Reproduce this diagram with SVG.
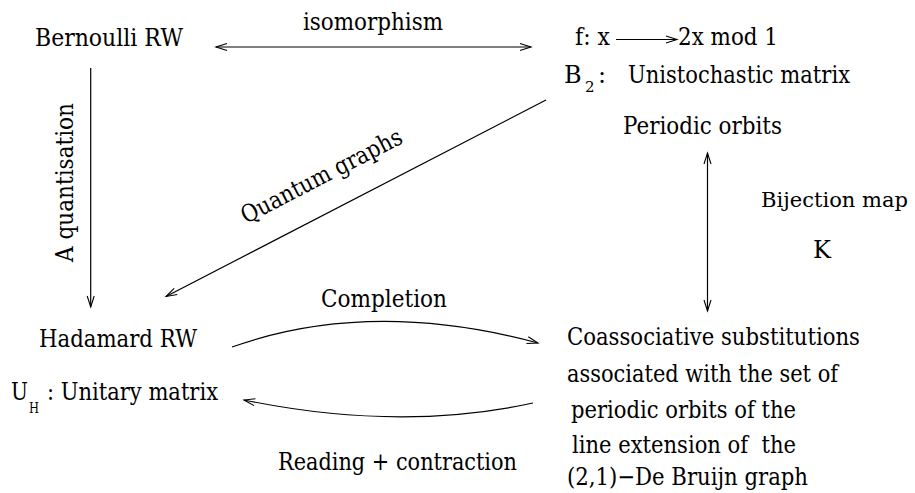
<svg xmlns="http://www.w3.org/2000/svg" width="915" height="493" viewBox="0 0 915 493">
<style>
.t{font-size:24px;fill:#000}
.sub{font-size:15px}
.c{fill:none;stroke:#000;stroke-width:1.2}
</style>
<defs>
<marker id="ah" markerUnits="userSpaceOnUse" markerWidth="14" markerHeight="10" viewBox="-12 -5 14 10" refX="0" refY="0" orient="auto-start-reverse">
<path d="M-11,-3.5 L0,0 L-11,3.5" fill="none" stroke="#000" stroke-width="1.1"/>
</marker>
</defs>
<rect width="915" height="493" fill="#fff"/>
<g id="connectors">
<line class="c" x1="216" y1="47" x2="531" y2="47" marker-start="url(#ah)" marker-end="url(#ah)"/>
<line class="c" x1="616" y1="39.5" x2="677" y2="39.5" marker-end="url(#ah)"/>
<line class="c" x1="90.7" y1="68" x2="90.7" y2="307" marker-end="url(#ah)"/>
<line class="c" x1="546" y1="100" x2="166" y2="296.5" marker-end="url(#ah)"/>
<line class="c" x1="707.5" y1="153" x2="707.5" y2="311" marker-start="url(#ah)" marker-end="url(#ah)"/>
<path class="c" d="M232,347 Q370,298 538,343" marker-end="url(#ah)"/>
<path class="c" d="M533,403 Q400,432 244,400" marker-end="url(#ah)"/>
</g>
<g class="t" font-family="DejaVu Serif, Liberation Serif, serif">
<g id="bernoulli"><text x="35" y="46" textLength="148" lengthAdjust="spacingAndGlyphs">Bernoulli RW</text></g>
<g id="label-isomorphism"><text x="303" y="30" textLength="140" lengthAdjust="spacingAndGlyphs">isomorphism</text></g>
<g id="doubling-map">
<text x="575" y="45" textLength="35" lengthAdjust="spacingAndGlyphs">f: x</text>
<text x="678" y="45" textLength="100" lengthAdjust="spacingAndGlyphs">2x mod 1</text>
<text x="564" y="83">B</text><text class="sub" x="585" y="92">2</text><text x="598" y="83">:</text>
<text x="628" y="83" textLength="222" lengthAdjust="spacingAndGlyphs">Unistochastic matrix</text>
</g>
<g id="periodic-orbits"><text x="623" y="134" textLength="159" lengthAdjust="spacingAndGlyphs">Periodic orbits</text></g>
<g id="label-bijection">
<text x="761" y="207" font-size="21" textLength="147" lengthAdjust="spacingAndGlyphs">Bijection map</text>
<text x="813" y="258">K</text>
</g>
<g id="label-quantisation"><text transform="translate(73,262) rotate(-90)" textLength="159" lengthAdjust="spacingAndGlyphs">A quantisation</text></g>
<g id="label-quantum-graphs"><text transform="translate(246,224) rotate(-27.3)" textLength="178" lengthAdjust="spacingAndGlyphs">Quantum graphs</text></g>
<g id="label-completion"><text x="321" y="307" textLength="126" lengthAdjust="spacingAndGlyphs">Completion</text></g>
<g id="hadamard">
<text x="39" y="347" textLength="158" lengthAdjust="spacingAndGlyphs">Hadamard RW</text>
<text x="11" y="400" textLength="17" lengthAdjust="spacingAndGlyphs">U</text><text class="sub" x="29" y="413" textLength="10" lengthAdjust="spacingAndGlyphs">H</text>
<text x="47" y="400" textLength="171" lengthAdjust="spacingAndGlyphs">: Unitary matrix</text>
</g>
<g id="label-reading"><text x="278" y="470" textLength="239" lengthAdjust="spacingAndGlyphs">Reading + contraction</text></g>
<g id="coassociative">
<text x="567" y="345" textLength="293" lengthAdjust="spacingAndGlyphs">Coassociative substitutions</text>
<text x="567" y="382" textLength="271" lengthAdjust="spacingAndGlyphs">associated with the set of</text>
<text x="571" y="418" textLength="225" lengthAdjust="spacingAndGlyphs">periodic orbits of the</text>
<text x="572" y="453" textLength="224" lengthAdjust="spacingAndGlyphs" xml:space="preserve">line extension of  the</text>
<text x="567" y="485" textLength="241" lengthAdjust="spacingAndGlyphs">(2,1)−De Bruijn graph</text>
</g>
</g>
</svg>
